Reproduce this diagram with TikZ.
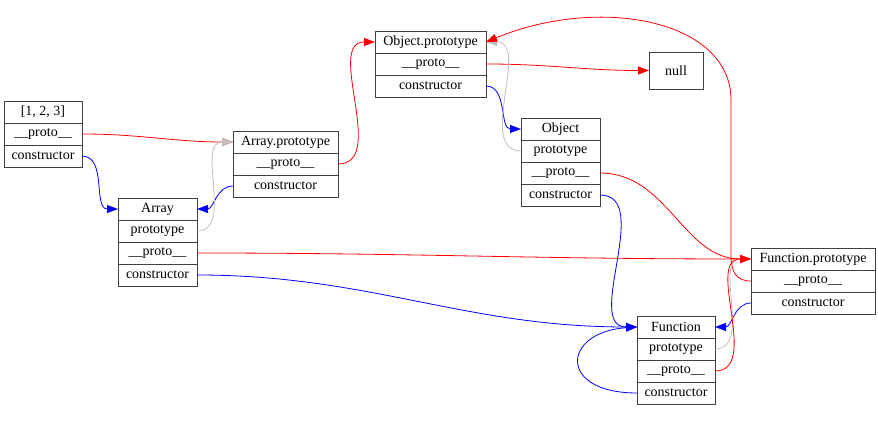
\documentclass[tikz,border=0pt]{standalone}
\usepackage{fontspec}
\setmainfont{Liberation Serif}
\usetikzlibrary{positioning,arrows.meta}

\begin{document}
\begin{tikzpicture}[x=1pt,y=-1pt,font=\fontsize{14}{16}\selectfont,
  fld/.style={draw=black!75,line width=0.8pt,minimum width=#1,minimum height=22pt,inner sep=0pt,outer sep=0pt},
  hd/.style={fld=#1,anchor=north west},
  protoar/.style={red,line width=0.8pt,-{Triangle[length=11pt,width=8pt]}},
  ctorar/.style={blue,line width=0.8pt,-{Triangle[length=11pt,width=8pt]}},
  ptar/.style={gray!50,line width=0.8pt,-{Triangle[length=11pt,width=8pt]}}]
  \useasboundingbox (0,0) rectangle (878,443);
  % records
  \node[hd=78pt] (arr) at (4,101) {[1, 2, 3]};
  \node[fld=78pt,below=0pt of arr] (arrP) {\_\_proto\_\_};
  \node[fld=78pt,below=0pt of arrP] (arrC) {constructor};
  \node[hd=79pt] (array) at (118,198) {Array};
  \node[fld=79pt,below=0pt of array] (arrayPt) {prototype};
  \node[fld=79pt,below=0pt of arrayPt] (arrayP) {\_\_proto\_\_};
  \node[fld=79pt,below=0pt of arrayP] (arrayC) {constructor};
  \node[hd=105pt] (aproto) at (233,131) {Array.prototype};
  \node[fld=105pt,below=0pt of aproto] (aprotoP) {\_\_proto\_\_};
  \node[fld=105pt,below=0pt of aprotoP] (aprotoC) {constructor};
  \node[hd=111pt] (oproto) at (375,31) {Object.prototype};
  \node[fld=111pt,below=0pt of oproto] (oprotoP) {\_\_proto\_\_};
  \node[fld=111pt,below=0pt of oprotoP] (oprotoC) {constructor};
  \node[hd=54pt,minimum height=37pt] (nul) at (649,52) {null};
  \node[hd=79pt] (obj) at (521,118) {Object};
  \node[fld=79pt,below=0pt of obj] (objPt) {prototype};
  \node[fld=79pt,below=0pt of objPt] (objP) {\_\_proto\_\_};
  \node[fld=79pt,below=0pt of objP] (objC) {constructor};
  \node[hd=124pt] (fproto) at (751,248) {Function.prototype};
  \node[fld=124pt,below=0pt of fproto] (fprotoP) {\_\_proto\_\_};
  \node[fld=124pt,below=0pt of fprotoP] (fprotoC) {constructor};
  \node[hd=78pt] (func) at (637,316) {Function};
  \node[fld=78pt,below=0pt of func] (funcPt) {prototype};
  \node[fld=78pt,below=0pt of funcPt] (funcP) {\_\_proto\_\_};
  \node[fld=78pt,below=0pt of funcP] (funcC) {constructor};
  % links
  \draw[protoar] (arrP.east) to[out=0,in=180] (aproto.west);
  \draw[ctorar] (arrC.east) to[out=0,in=180] (array.west);
  \draw[ctorar] (aprotoC.west) to[out=180,in=0] (array.east);
  \draw[ptar] (arrayPt.east) to[out=0,in=180] (aproto.west);
  \draw[protoar] (arrayP.east) to[out=0,in=180] (fproto.west);
  \draw[ctorar] (arrayC.east) to[out=0,in=180] (func.west);
  \draw[protoar] (aprotoP.east) to[out=0,in=180] (oproto.west);
  \draw[protoar] (oprotoP.east) to[out=0,in=180] (nul.west);
  \draw[ctorar] (oprotoC.east) to[out=0,in=180] (obj.west);
  \draw[ptar] (objPt.west) to[out=180,in=0] (oproto.east);
  \draw[protoar] (objP.east) to[out=0,in=180] (fproto.west);
  \draw[ctorar] (objC.east) to[out=0,in=180] (func.west);
  \draw[protoar] (fprotoP.west) .. controls (736,281) and (731,272) .. (731,255)
    -- (731,100) .. controls (731,20) and (600,-5) .. (oproto.east);
  \draw[ctorar] (fprotoC.west) to[out=180,in=0] (func.east);
  \draw[ptar] (funcPt.east) to[out=0,in=180] (fproto.west);
  \draw[protoar] (funcP.east) to[out=0,in=180] (fproto.west);
  \draw[ctorar] (funcC.west) .. controls +(-80,0) and +(-75,5) .. (func.west);
\end{tikzpicture}
\end{document}
